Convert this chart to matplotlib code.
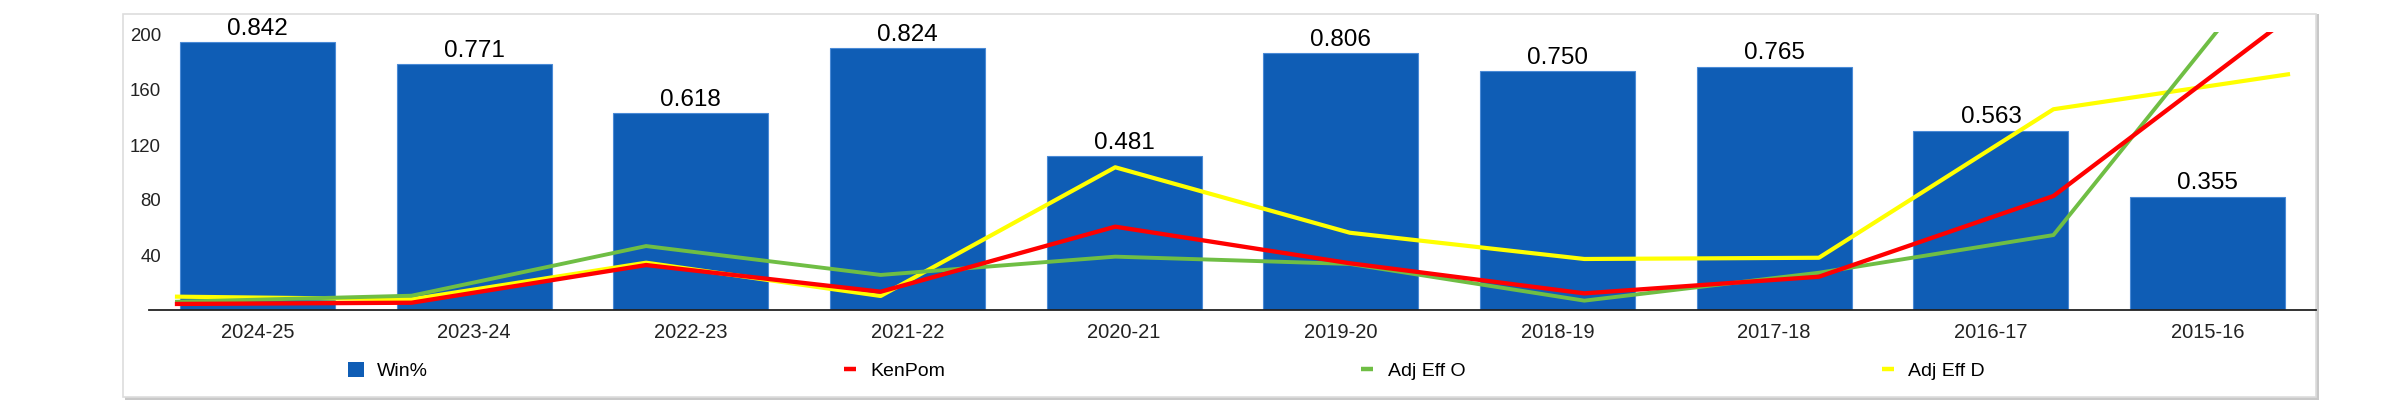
import numpy as np
import matplotlib
matplotlib.use("Agg")
import matplotlib.pyplot as plt
from matplotlib.patches import Patch, Rectangle
from matplotlib.lines import Line2D

plt.rcParams['font.family'] = ['Liberation Sans', 'DejaVu Sans']

# ---- data ----
seasons = ["2024-25", "2023-24", "2022-23", "2021-22", "2020-21",
           "2019-20", "2018-19", "2017-18", "2016-17", "2015-16"]
win_pct_labels = ["0.842", "0.771", "0.618", "0.824", "0.481",
                  "0.806", "0.750", "0.765", "0.563", "0.355"]
bar_heights = [194.7, 178.7, 143.0, 190.3, 111.8, 186.7, 173.6, 177.0, 130.2, 82.4]
kenpom = [4.4, 5.3, 32.7, 13.3, 60.6, 34.0, 12.1, 24.2, 82.9, 212.0]
adj_eff_o = [6.0, 10.4, 46.5, 25.5, 38.8, 33.5, 6.8, 27.1, 54.5, 267.0]
adj_eff_d = [9.7, 7.8, 34.4, 10.2, 103.8, 56.2, 37.1, 38.0, 146.0, 171.4]
y_ticks = [40, 80, 120, 160, 200]

W, H = 2397, 403
fig = plt.figure(figsize=(W / 100, H / 100), dpi=100)

# panel frame with shadow
fig.patches.append(Rectangle((125 / W, (H - 400) / H), (2319 - 125) / W, (400 - 14) / H,
                             transform=fig.transFigure, facecolor="#c8c8c8",
                             edgecolor="none", zorder=-3))
fig.patches.append(Rectangle((123 / W, (H - 397) / H), (2316 - 123) / W, (397 - 14) / H,
                             transform=fig.transFigure, facecolor="white",
                             edgecolor="#dddddd", linewidth=1.2, zorder=-2))

ax = fig.add_axes([149 / W, 93 / H, 2167 / W, 277.75 / H])
ax.set_zorder(1)
ax.set_facecolor("none")
x = np.arange(len(seasons))
ax.bar(x, bar_heights, width=0.715, color="#0f5db5",
       edgecolor="#4a8ad6", linewidth=0.8, zorder=1)

for xi, h, lab in zip(x, bar_heights, win_pct_labels):
    ax.annotate(lab, (xi, h), xytext=(0, 5.5), textcoords="offset points",
                ha="center", va="baseline", fontsize=17.5, color="black",
                annotation_clip=False)

inset = 28 / 216.7
lx = np.linspace(-0.5 + inset, len(seasons) - 0.5 - inset, len(seasons))
ax.plot(lx, adj_eff_d, color="#ffff00", lw=3.0, zorder=2)
ax.plot(lx, adj_eff_o, color="#6fbe44", lw=2.8, zorder=3)
ax.plot(lx, kenpom, color="#ff0000", lw=3.1, zorder=4)

ax.set_xlim(-0.5, len(seasons) - 0.5)
ax.set_ylim(0, 202)
ax.set_yticks(y_ticks)
ax.set_yticklabels([str(t) for t in y_ticks])
ax.set_xticks(x)
ax.set_xticklabels(seasons)
ax.tick_params(axis="y", length=0, pad=-8.6, labelsize=13.4, labelcolor="#222222")
ax.tick_params(axis="x", length=0, pad=9, labelsize=14.5, labelcolor="#222222")
for s in ["left", "right", "top"]:
    ax.spines[s].set_visible(False)
ax.spines["bottom"].set_color("#222222")
ax.spines["bottom"].set_linewidth(1.3)
ax.spines["bottom"].set_zorder(5)

handles = [Patch(facecolor="#0f5db5", edgecolor="none"),
           Line2D([], [], ls="none", marker="_", markersize=9, markeredgewidth=3.2,
                  color="#ff0000"),
           Line2D([], [], ls="none", marker="_", markersize=9, markeredgewidth=3.2,
                  color="#6fbe44"),
           Line2D([], [], ls="none", marker="_", markersize=9, markeredgewidth=3.2,
                  color="#ffff00")]
labels = ["Win%", "KenPom", "Adj Eff O", "Adj Eff D"]
leg = fig.legend(handles, labels, loc="center left",
                 bbox_to_anchor=(348 / W, (H - 371) / H), ncol=4, frameon=False,
                 fontsize=14, handlelength=0.8, handleheight=0.8,
                 handletextpad=0.67, columnspacing=21.3, borderpad=0, borderaxespad=0)
leg.set_zorder(2)

fig.savefig("out.png", dpi=100)
